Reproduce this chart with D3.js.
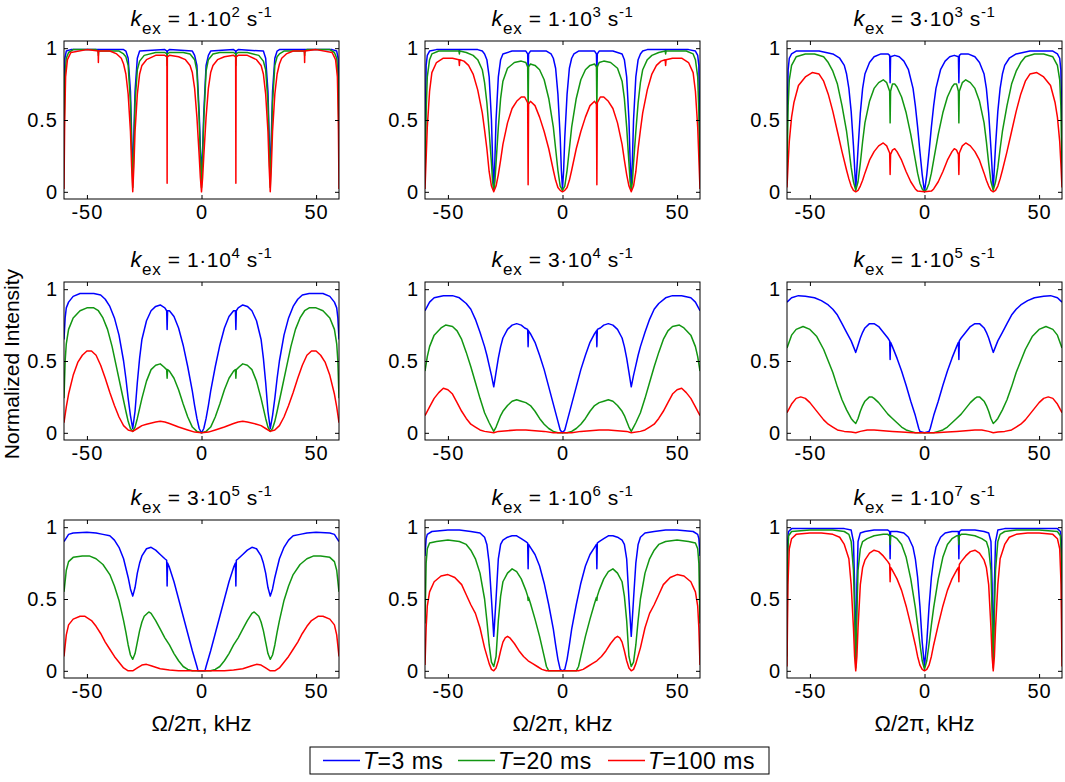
<!DOCTYPE html>
<html><head><meta charset="utf-8">
<script src="https://cdn.jsdelivr.net/npm/d3@7"></script>
<style>body{margin:0;background:#fff}</style>
</head><body>
<svg id="chart" width="1065" height="782"></svg>
<script>
// ---- labels / ticks ----
const kexMantissa = ["1","1","3","1","3","1","3","1","1"];
const kexExponent = ["2","3","3","4","4","5","5","6","7"];
const seriesLabels = ["3","20","100"];   // T in ms
const xTicks = [-50, 0, 50];
const yTicks = [0, 0.5, 1];

// ---- series values: [frequency offset kHz, normalized intensity] ----
const p1_3 = [[-60,.55],[-59.6,.93],[-59,.98],[-57,.99],[-46,.99],[-45.1,.99],[-45,.97],[-44.9,.99],[-34,.99],[-33,.98],[-32,.93],[-31,.7],[-30.5,.4],[-30,.1],[-29.5,.4],[-29,.7],[-28,.93],[-27,.98],[-16,.99],[-15.1,.98],[-15,.92],[-14.9,.98],[-14,.99],[-4,.98],[-3,.95],[-2,.88],[-1,.55],[-.5,.3],[0,.12],[.5,.3],[1,.55],[2,.88],[3,.95],[4,.98],[14,.99],[14.9,.98],[15,.92],[15.1,.98],[16,.99],[27,.98],[28,.93],[29,.7],[29.5,.4],[30,.1],[30.5,.4],[31,.7],[32,.93],[33,.98],[34,.99],[44.9,.99],[45,.97],[45.1,.99],[46,.99],[57,.99],[59,.98],[59.6,.93],[60,.55]];
const p1_20 = [[-60,.3],[-59.6,.8],[-59,.93],[-58,.97],[-56,.99],[-46,.99],[-45.1,.98],[-45,.95],[-44.9,.98],[-36,.98],[-34,.96],[-33,.94],[-32,.88],[-31,.62],[-30.5,.32],[-30,.03],[-29.5,.32],[-29,.62],[-28,.85],[-27,.91],[-25,.95],[-20,.97],[-16,.97],[-15.1,.96],[-15,.88],[-14.9,.96],[-14,.97],[-8,.97],[-5,.96],[-3,.92],[-2,.84],[-1,.5],[-.5,.25],[0,.03],[.5,.25],[1,.5],[2,.84],[3,.92],[5,.96],[8,.97],[14,.97],[14.9,.96],[15,.88],[15.1,.96],[16,.97],[20,.97],[25,.95],[27,.91],[28,.85],[29,.62],[29.5,.32],[30,.03],[30.5,.32],[31,.62],[32,.88],[33,.94],[34,.96],[36,.98],[44.9,.98],[45,.95],[45.1,.98],[46,.99],[56,.99],[58,.97],[59,.93],[59.6,.8],[60,.3]];
const p1_100 = [[-60,.02],[-59.7,.5],[-59.3,.8],[-58.5,.92],[-57,.97],[-50,.99],[-45.1,.98],[-45,.9],[-44.9,.98],[-40,.98],[-37,.96],[-35,.93],[-34,.89],[-33,.82],[-32,.68],[-31,.42],[-30.5,.18],[-30,0],[-29.5,.18],[-29,.42],[-28,.68],[-27,.82],[-26,.88],[-24,.92],[-20,.95],[-16,.95],[-15.1,.94],[-15,.06],[-14.9,.94],[-14,.95],[-10,.94],[-7,.92],[-5,.88],[-4,.83],[-3,.72],[-2,.52],[-1,.25],[-.5,.1],[0,0],[.5,.1],[1,.25],[2,.52],[3,.72],[4,.83],[5,.88],[7,.92],[10,.94],[14,.95],[14.9,.94],[15,.06],[15.1,.94],[16,.95],[20,.95],[24,.92],[26,.88],[27,.82],[28,.68],[29,.42],[29.5,.18],[30,0],[30.5,.18],[31,.42],[32,.68],[33,.82],[34,.89],[35,.93],[37,.96],[40,.98],[44.9,.98],[45,.9],[45.1,.98],[50,.99],[57,.97],[58.5,.92],[59.3,.8],[59.7,.5],[60,.02]];

const p2_3 = [[-60,.25],[-59.5,.88],[-59,.95],[-58,.98],[-55,.99],[-45.1,.99],[-45,.98],[-44.9,.99],[-37,.99],[-35,.98],[-34,.96],[-33,.92],[-32,.8],[-31,.5],[-30.5,.22],[-30,.02],[-29.5,.22],[-29,.5],[-28,.8],[-27,.92],[-26,.96],[-22,.98],[-16,.98],[-15.2,.96],[-15,.83],[-14.8,.96],[-14,.98],[-7,.98],[-5,.96],[-4,.93],[-3,.86],[-2,.68],[-1,.38],[-.5,.15],[0,.02],[.5,.15],[1,.38],[2,.68],[3,.86],[4,.93],[5,.96],[7,.98],[14,.98],[14.8,.96],[15,.83],[15.2,.96],[16,.98],[22,.98],[26,.96],[27,.92],[28,.8],[29,.5],[29.5,.22],[30,.02],[30.5,.22],[31,.5],[32,.8],[33,.92],[34,.96],[35,.98],[37,.99],[44.9,.99],[45,.98],[45.1,.99],[55,.99],[58,.98],[59,.95],[59.5,.88],[60,.25]];
const p2_20 = [[-60,.08],[-59.5,.55],[-59,.8],[-58,.92],[-57,.96],[-54,.98],[-45.2,.98],[-45,.96],[-44.8,.98],[-42,.97],[-39,.95],[-37,.92],[-35,.85],[-34,.76],[-33,.62],[-32,.42],[-31,.2],[-30.5,.07],[-30,.01],[-29.5,.07],[-29,.2],[-28,.45],[-27,.65],[-26,.77],[-24,.86],[-21,.9],[-18,.91],[-16,.9],[-15.2,.87],[-15,.57],[-14.8,.87],[-14,.89],[-12,.88],[-10,.85],[-8,.78],[-6,.65],[-4,.45],[-3,.3],[-2,.15],[-1,.04],[0,.01],[1,.04],[2,.15],[3,.3],[4,.45],[6,.65],[8,.78],[10,.85],[12,.88],[14,.89],[14.8,.87],[15,.57],[15.2,.87],[16,.9],[18,.91],[21,.9],[24,.86],[26,.77],[27,.65],[28,.45],[29,.2],[29.5,.07],[30,.01],[30.5,.07],[31,.2],[32,.42],[33,.62],[34,.76],[35,.85],[37,.92],[39,.95],[42,.97],[44.8,.98],[45,.96],[45.2,.98],[54,.98],[57,.96],[58,.92],[59,.8],[59.5,.55],[60,.08]];
const p2_100 = [[-60,.02],[-59,.45],[-58,.7],[-57,.83],[-55,.9],[-52,.93],[-48,.93],[-45.2,.92],[-45,.88],[-44.8,.92],[-43,.91],[-41,.88],[-39,.82],[-37,.71],[-35,.55],[-34,.43],[-33,.3],[-32,.14],[-31,.04],[-30,0],[-29,.04],[-28,.12],[-27,.22],[-26,.33],[-24,.48],[-22,.58],[-20,.63],[-18,.66],[-16.5,.66],[-15.2,.62],[-15,.05],[-14.8,.61],[-14,.63],[-12,.6],[-10,.52],[-8,.42],[-6,.3],[-4,.15],[-3,.08],[-2,.03],[-1,.01],[0,0],[1,.01],[2,.03],[3,.08],[4,.15],[6,.3],[8,.42],[10,.52],[12,.6],[14,.63],[14.8,.61],[15,.05],[15.2,.62],[16.5,.66],[18,.66],[20,.63],[22,.58],[24,.48],[26,.33],[27,.22],[28,.12],[29,.04],[30,0],[31,.04],[32,.14],[33,.3],[34,.43],[35,.55],[37,.71],[39,.82],[41,.88],[43,.91],[44.8,.92],[45,.88],[45.2,.92],[48,.93],[52,.93],[55,.9],[57,.83],[58,.7],[59,.45],[60,.02]];

const p3_3 = [[-60,.45],[-59.5,.85],[-59,.93],[-58,.96],[-56,.98],[-46,.98],[-43,.97],[-40,.96],[-37,.93],[-35,.88],[-34,.82],[-33,.72],[-32,.56],[-31,.32],[-30,.02],[-29,.3],[-28,.55],[-27,.72],[-26,.82],[-24,.9],[-22,.94],[-19,.96],[-16,.96],[-15.2,.95],[-15,.76],[-14.8,.94],[-13,.95],[-11,.94],[-9,.91],[-7,.85],[-5,.72],[-4,.6],[-3,.45],[-2,.28],[-1,.12],[0,0],[1,.12],[2,.28],[3,.45],[4,.6],[5,.72],[7,.85],[9,.91],[11,.94],[13,.95],[14.8,.94],[15,.76],[15.2,.95],[16,.96],[19,.96],[22,.94],[24,.9],[26,.82],[27,.72],[28,.55],[29,.3],[30,.02],[31,.32],[32,.56],[33,.72],[34,.82],[35,.88],[37,.93],[40,.96],[43,.97],[46,.98],[56,.98],[58,.96],[59,.93],[59.5,.85],[60,.45]];
const p3_20 = [[-60,.15],[-59.5,.6],[-59,.78],[-58,.88],[-56,.94],[-52,.96],[-48,.96],[-44,.94],[-42,.9],[-40,.84],[-38,.75],[-36,.6],[-34,.42],[-33,.3],[-32,.17],[-31,.07],[-30,.01],[-29,.07],[-28,.2],[-27,.35],[-26,.48],[-24,.63],[-22,.72],[-20,.76],[-18,.78],[-16.5,.76],[-15.2,.7],[-15,.48],[-14.8,.7],[-14,.75],[-13,.75],[-12,.73],[-10,.66],[-8,.55],[-6,.4],[-4,.22],[-3,.13],[-2,.06],[-1,.02],[0,0],[1,.02],[2,.06],[3,.13],[4,.22],[6,.4],[8,.55],[10,.66],[12,.73],[13,.75],[14,.75],[14.8,.7],[15,.48],[15.2,.7],[16.5,.76],[18,.78],[20,.76],[22,.72],[24,.63],[26,.48],[27,.35],[28,.2],[29,.07],[30,.01],[31,.07],[32,.17],[33,.3],[34,.42],[36,.6],[38,.75],[40,.84],[42,.9],[44,.94],[48,.96],[52,.96],[56,.94],[58,.88],[59,.78],[59.5,.6],[60,.15]];
const p3_100 = [[-60,.03],[-59.5,.2],[-59,.35],[-58,.52],[-57,.62],[-55,.74],[-52,.8],[-49,.83],[-46,.82],[-44,.77],[-42,.68],[-40,.56],[-38,.42],[-36,.28],[-34,.15],[-33,.09],[-32,.04],[-31,.01],[-30,0],[-29,.01],[-28,.04],[-27,.08],[-26,.13],[-24,.22],[-22,.28],[-20,.32],[-18,.34],[-16.5,.32],[-15.2,.27],[-15,.12],[-14.8,.26],[-14,.29],[-13,.3],[-12,.28],[-10,.22],[-8,.14],[-6,.07],[-4,.02],[-3,.005],[0,0],[3,.005],[4,.02],[6,.07],[8,.14],[10,.22],[12,.28],[13,.3],[14,.29],[14.8,.26],[15,.12],[15.2,.27],[16.5,.32],[18,.34],[20,.32],[22,.28],[24,.22],[26,.13],[27,.08],[28,.04],[29,.01],[30,0],[31,.01],[32,.04],[33,.09],[34,.15],[36,.28],[38,.42],[40,.56],[42,.68],[44,.77],[46,.82],[49,.83],[52,.8],[55,.74],[57,.62],[58,.52],[59,.35],[59.5,.2],[60,.03]];

const p4_3 = [[-60,.65],[-59.5,.8],[-59,.87],[-58,.91],[-56,.95],[-53,.97],[-47,.97],[-44,.96],[-42,.93],[-40,.88],[-38,.8],[-36,.68],[-34,.5],[-33,.38],[-32,.24],[-31,.12],[-30,.03],[-29,.15],[-28,.35],[-27,.52],[-26,.65],[-24,.78],[-22,.85],[-20,.88],[-18,.89],[-16,.87],[-15.2,.85],[-15,.72],[-14.8,.85],[-14,.85],[-12,.81],[-10,.73],[-8,.61],[-6,.46],[-4,.29],[-3,.19],[-2,.1],[-1,.03],[0,0],[1,.03],[2,.1],[3,.19],[4,.29],[6,.46],[8,.61],[10,.73],[12,.81],[14,.85],[14.8,.85],[15,.72],[15.2,.85],[16,.87],[18,.89],[20,.88],[22,.85],[24,.78],[26,.65],[27,.52],[28,.35],[29,.15],[30,.03],[31,.12],[32,.24],[33,.38],[34,.5],[36,.68],[38,.8],[40,.88],[42,.93],[44,.96],[47,.97],[53,.97],[56,.95],[58,.91],[59,.87],[59.5,.8],[60,.65]];
const p4_20 = [[-60,.24],[-59.5,.5],[-59,.62],[-58,.72],[-56,.8],[-53,.85],[-50,.87],[-47,.87],[-45,.85],[-43,.8],[-41,.72],[-39,.6],[-37,.45],[-35,.3],[-33,.15],[-32,.08],[-31,.03],[-30,.01],[-29,.04],[-28,.1],[-27,.17],[-26,.24],[-24,.36],[-22,.44],[-20,.47],[-18,.48],[-16.5,.46],[-15.2,.44],[-15,.38],[-14.8,.44],[-14,.43],[-12,.38],[-10,.3],[-8,.2],[-6,.11],[-4,.04],[-2,.01],[0,0],[2,.01],[4,.04],[6,.11],[8,.2],[10,.3],[12,.38],[14,.43],[14.8,.44],[15,.38],[15.2,.44],[16.5,.46],[18,.48],[20,.47],[22,.44],[24,.36],[26,.24],[27,.17],[28,.1],[29,.04],[30,.01],[31,.03],[32,.08],[33,.15],[35,.3],[37,.45],[39,.6],[41,.72],[43,.8],[45,.85],[47,.87],[50,.87],[53,.85],[56,.8],[58,.72],[59,.62],[59.5,.5],[60,.24]];
const p4_100 = [[-60,.07],[-59,.18],[-58,.27],[-56,.4],[-54,.49],[-52,.54],[-50,.57],[-48,.57],[-46,.54],[-44,.47],[-42,.38],[-40,.28],[-38,.19],[-36,.11],[-34,.05],[-32,.02],[-30,.01],[-28,.03],[-26,.05],[-24,.06],[-20,.075],[-18,.08],[-16,.075],[-14,.065],[-10,.04],[-6,.02],[-3,.005],[0,0],[3,.005],[6,.02],[10,.04],[14,.065],[16,.075],[18,.08],[20,.075],[24,.06],[26,.05],[28,.03],[30,.01],[32,.02],[34,.05],[36,.11],[38,.19],[40,.28],[42,.38],[44,.47],[46,.54],[48,.57],[50,.57],[52,.54],[54,.49],[56,.4],[58,.27],[59,.18],[60,.07]];

const p5_3 = [[-60,.85],[-59,.88],[-58,.91],[-56,.94],[-52,.955],[-48,.955],[-45,.94],[-42,.9],[-40,.86],[-38,.79],[-36,.7],[-34,.6],[-33,.54],[-32,.47],[-31,.4],[-30,.32],[-29,.42],[-28,.52],[-27,.6],[-26,.66],[-24,.72],[-22,.75],[-20,.76],[-18,.75],[-16.5,.73],[-15.2,.72],[-15,.6],[-14.8,.71],[-14,.69],[-12,.63],[-10,.54],[-8,.44],[-6,.32],[-4,.2],[-2,.08],[-1,.02],[0,0],[1,.02],[2,.08],[4,.2],[6,.32],[8,.44],[10,.54],[12,.63],[14,.69],[14.8,.71],[15,.6],[15.2,.72],[16.5,.73],[18,.75],[20,.76],[22,.75],[24,.72],[26,.66],[27,.6],[28,.52],[29,.42],[30,.32],[31,.4],[32,.47],[33,.54],[34,.6],[36,.7],[38,.79],[40,.86],[42,.9],[45,.94],[48,.955],[52,.955],[56,.94],[58,.91],[59,.88],[60,.85]];
const p5_20 = [[-60,.43],[-59,.53],[-58,.6],[-56,.68],[-53,.73],[-51,.75],[-48,.74],[-46,.71],[-44,.65],[-42,.56],[-40,.46],[-38,.35],[-36,.24],[-34,.14],[-32,.07],[-31,.04],[-30,.01],[-29,.04],[-28,.08],[-27,.12],[-26,.15],[-24,.19],[-22,.22],[-20,.23],[-18,.22],[-16,.21],[-14,.19],[-12,.15],[-10,.1],[-8,.06],[-6,.03],[-4,.01],[-2,0],[0,0],[2,0],[4,.01],[6,.03],[8,.06],[10,.1],[12,.15],[14,.19],[16,.21],[18,.22],[20,.23],[22,.22],[24,.19],[26,.15],[27,.12],[28,.08],[29,.04],[30,.01],[31,.04],[32,.07],[34,.14],[36,.24],[38,.35],[40,.46],[42,.56],[44,.65],[46,.71],[48,.74],[51,.75],[53,.73],[56,.68],[58,.6],[59,.53],[60,.43]];
const p5_100 = [[-60,.12],[-58,.18],[-56,.24],[-54,.28],[-52,.31],[-50,.3],[-48,.27],[-46,.21],[-44,.15],[-42,.1],[-40,.06],[-38,.04],[-36,.02],[-34,.01],[-30,0],[-28,.01],[-24,.015],[-20,.02],[-16,.02],[-12,.015],[-8,.01],[-4,0],[0,0],[4,0],[8,.01],[12,.015],[16,.02],[20,.02],[24,.015],[28,.01],[30,0],[34,.01],[36,.02],[38,.04],[40,.06],[42,.1],[44,.15],[46,.21],[48,.27],[50,.3],[52,.31],[54,.28],[56,.24],[58,.18],[60,.12]];

const p6_3 = [[-60,.91],[-58,.94],[-55,.955],[-52,.95],[-48,.94],[-45,.92],[-42,.89],[-40,.86],[-38,.82],[-36,.76],[-34,.7],[-32,.64],[-31,.6],[-30,.56],[-29,.61],[-28,.66],[-27,.7],[-26,.73],[-24,.76],[-22,.76],[-20,.74],[-18,.7],[-16,.66],[-15.2,.64],[-15,.51],[-14.8,.63],[-14,.6],[-12,.52],[-10,.43],[-8,.33],[-6,.22],[-4,.12],[-2.5,.03],[-2,.01],[0,0],[2,.01],[2.5,.03],[4,.12],[6,.22],[8,.33],[10,.43],[12,.52],[14,.6],[14.8,.63],[15,.51],[15.2,.64],[16,.66],[18,.7],[20,.74],[22,.76],[24,.76],[26,.73],[27,.7],[28,.66],[29,.61],[30,.56],[31,.6],[32,.64],[34,.7],[36,.76],[38,.82],[40,.86],[42,.89],[45,.92],[48,.94],[52,.95],[55,.955],[58,.94],[60,.91]];
const p6_20 = [[-60,.59],[-58,.68],[-56,.72],[-53,.74],[-50,.72],[-47,.67],[-44,.58],[-42,.5],[-40,.42],[-38,.32],[-36,.23],[-34,.16],[-32,.1],[-31,.08],[-30,.065],[-29,.1],[-28,.15],[-27,.19],[-26,.22],[-24,.25],[-23,.25],[-22,.24],[-20,.21],[-18,.17],[-16,.13],[-14,.1],[-12,.07],[-10,.04],[-8,.02],[-6,.01],[-4,0],[0,0],[4,0],[6,.01],[8,.02],[10,.04],[12,.07],[14,.1],[16,.13],[18,.17],[20,.21],[22,.24],[23,.25],[24,.25],[26,.22],[27,.19],[28,.15],[29,.1],[30,.065],[31,.08],[32,.1],[34,.16],[36,.23],[38,.32],[40,.42],[42,.5],[44,.58],[47,.67],[50,.72],[53,.74],[56,.72],[58,.68],[60,.59]];
const p6_100 = [[-60,.14],[-58,.2],[-56,.24],[-54,.25],[-52,.24],[-50,.21],[-48,.17],[-46,.13],[-44,.09],[-42,.06],[-40,.04],[-38,.02],[-35,.01],[-32,.005],[-30,0],[-28,.01],[-25,.02],[-22,.02],[-18,.015],[-14,.01],[-10,.005],[-5,0],[0,0],[5,0],[10,.005],[14,.01],[18,.015],[22,.02],[25,.02],[28,.01],[30,0],[32,.005],[35,.01],[38,.02],[40,.04],[42,.06],[44,.09],[46,.13],[48,.17],[50,.21],[52,.24],[54,.25],[56,.24],[58,.2],[60,.14]];

const p7_3 = [[-60,.9],[-58,.95],[-56,.96],[-50,.965],[-46,.96],[-43,.95],[-40,.94],[-38,.91],[-36,.86],[-34,.78],[-32,.65],[-31,.57],[-30,.52],[-29,.58],[-28,.68],[-27,.75],[-26,.8],[-24,.85],[-22,.86],[-20,.84],[-18,.81],[-16,.78],[-15.2,.77],[-15,.59],[-14.8,.75],[-14,.72],[-12,.62],[-10,.5],[-8,.38],[-6,.26],[-4,.14],[-2,.03],[-1.5,0],[0,0],[1.5,0],[2,.03],[4,.14],[6,.26],[8,.38],[10,.5],[12,.62],[14,.72],[14.8,.75],[15,.59],[15.2,.77],[16,.78],[18,.81],[20,.84],[22,.86],[24,.85],[26,.8],[27,.75],[28,.68],[29,.58],[30,.52],[31,.57],[32,.65],[34,.78],[36,.86],[38,.91],[40,.94],[43,.95],[46,.96],[50,.965],[56,.96],[58,.95],[60,.9]];
const p7_20 = [[-60,.55],[-59,.7],[-58,.76],[-56,.79],[-52,.8],[-49,.8],[-46,.78],[-43,.74],[-40,.67],[-38,.59],[-36,.49],[-34,.35],[-33,.27],[-32,.18],[-31,.11],[-30,.08],[-29,.12],[-28,.2],[-27,.28],[-26,.34],[-25,.38],[-23,.41],[-22,.4],[-20,.35],[-18,.29],[-16,.23],[-14,.18],[-12,.12],[-10,.07],[-8,.03],[-6,.01],[-4,0],[0,0],[4,0],[6,.01],[8,.03],[10,.07],[12,.12],[14,.18],[16,.23],[18,.29],[20,.35],[22,.4],[23,.41],[25,.38],[26,.34],[27,.28],[28,.2],[29,.12],[30,.08],[31,.11],[32,.18],[33,.27],[34,.35],[36,.49],[38,.59],[40,.67],[43,.74],[46,.78],[49,.8],[52,.8],[56,.79],[58,.76],[59,.7],[60,.55]];
const p7_100 = [[-60,.1],[-59,.25],[-58,.32],[-56,.36],[-53,.38],[-51,.38],[-48,.35],[-46,.31],[-44,.26],[-42,.2],[-40,.15],[-38,.1],[-36,.06],[-34,.02],[-32,0],[-30,0],[-28,.02],[-26,.04],[-24,.045],[-22,.035],[-18,.015],[-14,.005],[-10,0],[0,0],[10,0],[14,.005],[18,.015],[22,.035],[24,.045],[26,.04],[28,.02],[30,0],[32,0],[34,.02],[36,.06],[38,.1],[40,.15],[42,.2],[44,.26],[46,.31],[48,.35],[51,.38],[53,.38],[56,.36],[58,.32],[59,.25],[60,.1]];

const p8_3 = [[-60,.8],[-59.5,.92],[-59,.95],[-57,.97],[-50,.98],[-45,.98],[-40,.97],[-36,.96],[-34,.93],[-33,.88],[-32,.75],[-31,.5],[-30,.24],[-29,.5],[-28,.78],[-27,.88],[-26,.91],[-24,.93],[-22,.94],[-20,.94],[-18,.92],[-16,.9],[-15.2,.89],[-15,.71],[-14.8,.88],[-14,.86],[-12,.81],[-10,.73],[-8,.61],[-6,.46],[-4,.29],[-3,.18],[-2,.08],[-1,.01],[0,0],[1,.01],[2,.08],[3,.18],[4,.29],[6,.46],[8,.61],[10,.73],[12,.81],[14,.86],[14.8,.88],[15,.71],[15.2,.89],[16,.9],[18,.92],[20,.94],[22,.94],[24,.93],[26,.91],[27,.88],[28,.78],[29,.5],[30,.24],[31,.5],[32,.75],[33,.88],[34,.93],[36,.96],[40,.97],[45,.98],[50,.98],[57,.97],[59,.95],[59.5,.92],[60,.8]];
const p8_20 = [[-60,.33],[-59.5,.75],[-59,.85],[-58,.89],[-55,.9],[-50,.91],[-45,.9],[-42,.88],[-40,.84],[-38,.78],[-36,.68],[-34,.5],[-33,.35],[-32,.18],[-31,.06],[-30,.03],[-29,.1],[-28,.35],[-27,.52],[-26,.62],[-24,.68],[-22,.71],[-20,.69],[-18,.64],[-16,.56],[-15.2,.52],[-15,.49],[-14.8,.51],[-14,.47],[-12,.36],[-10,.24],[-8,.1],[-7,.03],[-6,0],[0,0],[6,0],[7,.03],[8,.1],[10,.24],[12,.36],[14,.47],[14.8,.51],[15,.49],[15.2,.52],[16,.56],[18,.64],[20,.69],[22,.71],[24,.68],[26,.62],[27,.52],[28,.35],[29,.1],[30,.03],[31,.06],[32,.18],[33,.35],[34,.5],[36,.68],[38,.78],[40,.84],[42,.88],[45,.9],[50,.91],[55,.9],[58,.89],[59,.85],[59.5,.75],[60,.33]];
const p8_100 = [[-60,.04],[-59.5,.3],[-59,.45],[-58,.55],[-56,.62],[-53,.66],[-50,.67],[-47,.65],[-44,.6],[-42,.53],[-40,.46],[-38,.4],[-36,.3],[-34,.16],[-32,.05],[-31,.01],[-30,0],[-29,.02],[-28,.07],[-27,.14],[-26,.2],[-25,.23],[-24,.24],[-23,.23],[-21,.19],[-19,.14],[-17,.1],[-15,.07],[-13,.05],[-11,.03],[-9,.01],[-7,0],[0,0],[7,0],[9,.01],[11,.03],[13,.05],[15,.07],[17,.1],[19,.14],[21,.19],[23,.23],[24,.24],[25,.23],[26,.2],[27,.14],[28,.07],[29,.02],[30,0],[31,.01],[32,.05],[34,.16],[36,.3],[38,.4],[40,.46],[42,.53],[44,.6],[47,.65],[50,.67],[53,.66],[56,.62],[58,.55],[59,.45],[59.5,.3],[60,.04]];

const p9_3 = [[-60,.3],[-59.7,.9],[-59.3,.97],[-58,.99],[-35,.99],[-32,.98],[-31,.9],[-30.5,.6],[-30,.05],[-29.5,.6],[-29,.9],[-28,.96],[-26,.97],[-22,.98],[-16,.98],[-15.2,.97],[-15,.78],[-14.8,.97],[-12,.97],[-9,.96],[-7,.93],[-5,.86],[-4,.78],[-3,.65],[-2,.45],[-1,.2],[0,.03],[1,.2],[2,.45],[3,.65],[4,.78],[5,.86],[7,.93],[9,.96],[12,.97],[14.8,.97],[15,.78],[15.2,.97],[16,.98],[22,.98],[26,.97],[28,.96],[29,.9],[29.5,.6],[30,.05],[30.5,.6],[31,.9],[32,.98],[35,.99],[58,.99],[59.3,.97],[59.7,.9],[60,.3]];
const p9_20 = [[-60,.1],[-59.7,.8],[-59.3,.94],[-58,.97],[-50,.98],[-40,.98],[-35,.97],[-33,.95],[-32,.9],[-31,.7],[-30.5,.4],[-30,.02],[-29.5,.4],[-29,.7],[-28,.85],[-27,.9],[-25,.92],[-22,.94],[-18,.95],[-16,.95],[-15.2,.94],[-15,.88],[-14.8,.94],[-14,.94],[-12,.92],[-10,.88],[-8,.79],[-6,.64],[-4,.44],[-3,.32],[-2,.19],[-1,.07],[0,.01],[1,.07],[2,.19],[3,.32],[4,.44],[6,.64],[8,.79],[10,.88],[12,.92],[14,.94],[14.8,.94],[15,.88],[15.2,.94],[16,.95],[18,.95],[22,.94],[25,.92],[27,.9],[28,.85],[29,.7],[29.5,.4],[30,.02],[30.5,.4],[31,.7],[32,.9],[33,.95],[35,.97],[40,.98],[50,.98],[58,.97],[59.3,.94],[59.7,.8],[60,.1]];
const p9_100 = [[-60,.03],[-59.6,.6],[-59,.85],[-58,.92],[-56,.95],[-50,.96],[-45,.96],[-40,.95],[-37,.93],[-35,.88],[-33,.78],[-32,.6],[-31,.3],[-30.5,.1],[-30,0],[-29.5,.1],[-29,.3],[-28,.6],[-27,.72],[-26,.77],[-24,.82],[-22,.84],[-20,.83],[-18,.8],[-16,.76],[-15.2,.74],[-15,.62],[-14.8,.72],[-14,.7],[-12,.64],[-10,.56],[-8,.45],[-6,.32],[-4,.18],[-3,.1],[-2,.04],[-1,.01],[0,0],[1,.01],[2,.04],[3,.1],[4,.18],[6,.32],[8,.45],[10,.56],[12,.64],[14,.7],[14.8,.72],[15,.62],[15.2,.74],[16,.76],[18,.8],[20,.83],[22,.84],[24,.82],[26,.77],[27,.72],[28,.6],[29,.3],[29.5,.1],[30,0],[30.5,.1],[31,.3],[32,.6],[33,.78],[35,.88],[37,.93],[40,.95],[45,.96],[50,.96],[56,.95],[58,.92],[59,.85],[59.6,.6],[60,.03]];

const panelSeries = [
  [p1_3,p1_20,p1_100],[p2_3,p2_20,p2_100],[p3_3,p3_20,p3_100],
  [p4_3,p4_20,p4_100],[p5_3,p5_20,p5_100],[p6_3,p6_20,p6_100],
  [p7_3,p7_20,p7_100],[p8_3,p8_20,p8_100],[p9_3,p9_20,p9_100]
];

// ---- layout / style ----
const colors = ["#0000ff", "#129612", "#ff0000"];
const FONT = "'Liberation Sans', Arial, Helvetica, sans-serif";
const colLeft = [64, 425, 787], rowTop = [41, 282, 520];
const W = 275, H = 158;

const svg = d3.select("#chart").style("font-family", FONT);
const x = d3.scaleLinear().domain([-60, 60]).range([0, W]);
const y = d3.scaleLinear().domain([-0.05, 1.05]).range([H, 0]);
const line = d3.line().x(d => x(d[0])).y(d => y(d[1]));

panelSeries.forEach((series, i) => {
  const col = i % 3, row = Math.floor(i / 3);
  const g = svg.append("g").attr("transform", `translate(${colLeft[col]},${rowTop[row]})`);
  g.append("clipPath").attr("id", "clip" + i).append("rect").attr("width", W).attr("height", H);

  series.forEach((s, j) => {
    g.append("path").attr("d", line(s)).attr("fill", "none")
      .attr("stroke", colors[j]).attr("stroke-width", 1.5)
      .attr("stroke-linejoin", "round")
      .attr("clip-path", `url(#clip${i})`);
  });

  const fmt = d => String(d);
  const bottom = g.append("g").attr("transform", `translate(0,${H})`)
    .call(d3.axisBottom(x).tickValues(xTicks).tickFormat(fmt).tickSizeInner(-4).tickSizeOuter(0).tickPadding(6));
  const top = g.append("g")
    .call(d3.axisTop(x).tickValues(xTicks).tickFormat("").tickSizeInner(-4).tickSizeOuter(0));
  const left = g.append("g")
    .call(d3.axisLeft(y).tickValues(yTicks).tickFormat(fmt).tickSizeInner(-4).tickSizeOuter(0).tickPadding(6));
  const right = g.append("g").attr("transform", `translate(${W},0)`)
    .call(d3.axisRight(y).tickValues(yTicks).tickFormat("").tickSizeInner(-4).tickSizeOuter(0));
  [bottom, top, left, right].forEach(a => {
    a.select(".domain").remove();
    a.attr("font-family", FONT).attr("font-size", 20);
    a.selectAll("line").attr("stroke", "#000");
    a.selectAll("text").attr("fill", "#000").attr("letter-spacing", 1);
  });

  g.append("rect").attr("width", W).attr("height", H)
    .attr("fill", "none").attr("stroke", "#000").attr("stroke-width", 1);

  const t = g.append("text").attr("x", W / 2).attr("y", -15)
    .attr("text-anchor", "middle").attr("font-size", 21).attr("fill", "#000")
    .attr("letter-spacing", 0.6);
  t.append("tspan").attr("font-style", "italic").attr("font-size", 22).text("k");
  t.append("tspan").attr("font-size", 17).attr("dy", 8).text("ex");
  t.append("tspan").attr("dy", -8).text(" = " + kexMantissa[i] + "\u00B710");
  t.append("tspan").attr("font-size", 15).attr("dy", -9).text(kexExponent[i]);
  t.append("tspan").attr("dy", 9).text(" s");
  t.append("tspan").attr("font-size", 15).attr("dy", -9).text("-1");

  if (row === 2) {
    g.append("text").attr("x", W / 2).attr("y", H + 53).attr("text-anchor", "middle")
      .attr("font-size", 22).attr("fill", "#000").text("\u03A9/2\u03C0, kHz");
  }
});

// y-axis label
svg.append("text").attr("transform", "translate(19,364) rotate(-90)")
  .attr("text-anchor", "middle").attr("font-size", 21).attr("fill", "#000")
  .text("Normalized Intensity");

// legend
const leg = svg.append("g").attr("transform", "translate(310,747)");
leg.append("rect").attr("width", 459).attr("height", 27).attr("fill", "#fff")
  .attr("stroke", "#000").attr("stroke-width", 1);
const legX = [13, 148, 298];
seriesLabels.forEach((lab, j) => {
  leg.append("line").attr("x1", legX[j]).attr("x2", legX[j] + 37)
    .attr("y1", 13.5).attr("y2", 13.5).attr("stroke", colors[j]).attr("stroke-width", 1.5);
  const tx = leg.append("text").attr("x", legX[j] + 40).attr("y", 21.5)
    .attr("font-size", 23).attr("fill", "#000").attr("letter-spacing", 0.5);
  tx.append("tspan").attr("font-style", "italic").text("T");
  tx.append("tspan").text("=" + lab + " ms");
});
</script>
</body></html>
